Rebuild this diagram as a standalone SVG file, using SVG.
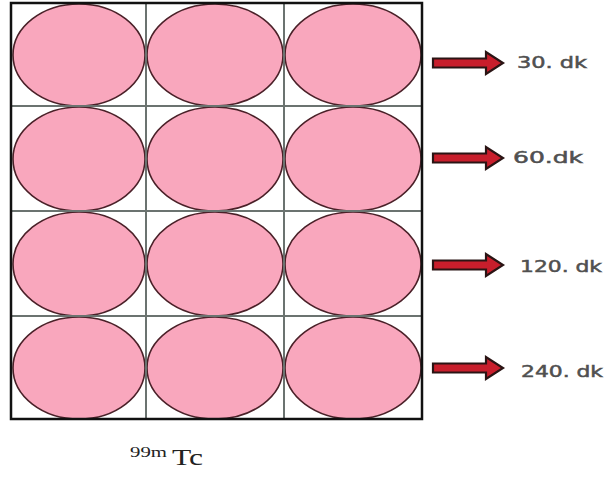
<svg xmlns="http://www.w3.org/2000/svg" width="611" height="480" viewBox="0 0 611 480">
<style>
.cell{fill:#f9a7bd;stroke:#4a2028;stroke-width:1.6}
.grid{stroke:#6b7370;stroke-width:2;fill:none}
.arrow{fill:#c81e2c;stroke:#2a1414;stroke-width:2.2;stroke-linejoin:miter}
.lbl{font-family:"DejaVu Sans",Verdana,sans-serif;font-size:16px;fill:#505050;stroke:#505050;stroke-width:0.5}
.tc{font-family:"Liberation Serif","Times New Roman",serif;fill:#222}
</style>
<defs>
<path id="arr" class="arrow" d="M0,-4.5 H53 V-11 L70,0 L53,11 V4.5 H0 Z"/>
</defs>
<rect width="611" height="480" fill="#fff"/>
<g id="wells">
<g id="r1">
<ellipse class="cell" cx="79" cy="55" rx="66" ry="51"/>
<ellipse class="cell" cx="215" cy="55" rx="68" ry="51"/>
<ellipse class="cell" cx="353" cy="55" rx="68" ry="51"/>
</g>
<g id="r2">
<ellipse class="cell" cx="79" cy="159" rx="66" ry="52"/>
<ellipse class="cell" cx="215" cy="159" rx="68" ry="52"/>
<ellipse class="cell" cx="353" cy="159" rx="68" ry="52"/>
</g>
<g id="r3">
<ellipse class="cell" cx="79" cy="264" rx="66" ry="52"/>
<ellipse class="cell" cx="215" cy="264" rx="68" ry="52"/>
<ellipse class="cell" cx="353" cy="264" rx="68" ry="52"/>
</g>
<g id="r4">
<ellipse class="cell" cx="79" cy="368" rx="66" ry="51"/>
<ellipse class="cell" cx="215" cy="368" rx="68" ry="51"/>
<ellipse class="cell" cx="353" cy="368" rx="68" ry="51"/>
</g>
</g>
<g id="grid">
<path class="grid" d="M146,3 V419 M284,3 V419 M11,106 H422 M11,211 H422 M11,316 H422"/>
<rect x="11" y="3" width="411" height="416" fill="none" stroke="#111" stroke-width="2.5"/>
</g>
<g id="connectors">
<use href="#arr" x="433" y="63"/>
<use href="#arr" x="433" y="158"/>
<use href="#arr" x="433" y="265"/>
<use href="#arr" x="433" y="368"/>
</g>
<g id="labels">
<text class="lbl" x="517" y="68" textLength="70" lengthAdjust="spacingAndGlyphs">30. dk</text>
<text class="lbl" x="513" y="163" textLength="70" lengthAdjust="spacingAndGlyphs">60.dk</text>
<text class="lbl" x="520" y="272" textLength="82" lengthAdjust="spacingAndGlyphs">120. dk</text>
<text class="lbl" x="521" y="377" textLength="82" lengthAdjust="spacingAndGlyphs">240. dk</text>
<text class="tc" x="130" y="465"><tspan font-size="14" dy="-8" textLength="37" lengthAdjust="spacingAndGlyphs">99m</tspan><tspan font-size="24" dy="8" x="172" textLength="31" lengthAdjust="spacingAndGlyphs">Tc</tspan></text>
</g>
</svg>
